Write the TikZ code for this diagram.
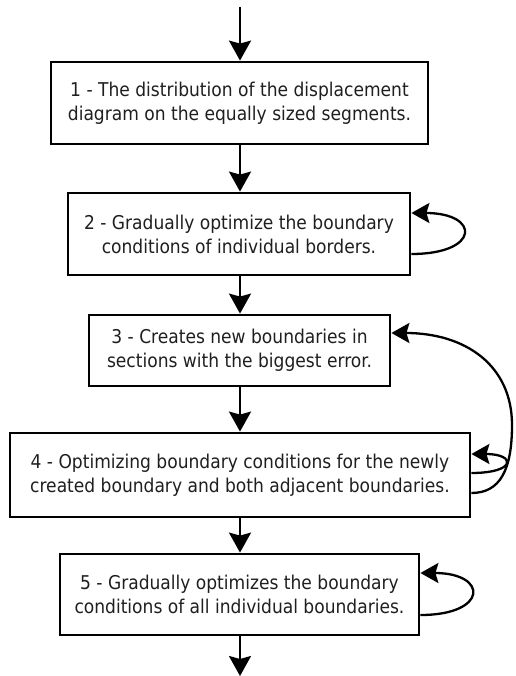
\documentclass[tikz,border=0pt]{standalone}
\usepackage{fontspec}
\setmainfont{DejaVu Sans Condensed}
\usetikzlibrary{arrows.meta}
\begin{document}
\begin{tikzpicture}[x=1pt,y=-1pt,
  stepbox/.style={draw, line width=2.8pt, rectangle, inner sep=0pt, align=center,
    font=\fontsize{19}{24}\selectfont, text=black!88},
  flow/.style={line width=2.3pt, -{Stealth[length=20pt,width=22pt,inset=3pt]}},
  loop/.style={line width=2.3pt, -{Stealth[length=18pt,width=20pt,inset=3pt]}}]
\useasboundingbox (0,0) rectangle (515,676);
\node[stepbox, minimum width=377pt, minimum height=82pt] (b1) at (239.5,103)
  {1 - The distribution of the displacement\\diagram on the equally sized segments.};
\node[stepbox, minimum width=342pt, minimum height=82pt] (b2) at (239,234)
  {2 - Gradually optimize the boundary\\conditions of individual borders.};
\node[stepbox, minimum width=301pt, minimum height=71pt] (b3) at (239.5,350.5)
  {3 - Creates new boundaries in\\sections with the biggest error.};
\node[stepbox, minimum width=460pt, minimum height=84pt] (b4) at (240,475)
  {4 - Optimizing boundary conditions for the newly\\created boundary and both adjacent boundaries.};
\node[stepbox, minimum width=359pt, minimum height=81pt] (b5) at (239.5,594.5)
  {5 - Gradually optimizes the boundary\\conditions of all individual boundaries.};
\coordinate (top) at (240,7);
\coordinate (bot) at (240,676);
% main flow
\draw[flow] (top) -- (top |- b1.north);
\draw[flow] (top |- b1.south) -- (top |- b2.north);
\draw[flow] (top |- b2.south) -- (top |- b3.north);
\draw[flow] (top |- b3.south) -- (top |- b4.north);
\draw[flow] (top |- b4.south) -- (top |- b5.north);
\draw[flow] (top |- b5.south) -- (bot);
% loops
\draw[loop] ([yshift=-20pt]b2.east) .. controls +(69,0) and +(69,0) .. ([yshift=21pt]b2.east);
\draw[loop] ([yshift=2pt]b4.east) .. controls +(45,0) and +(45,0) .. ([yshift=21pt]b4.east);
\draw[loop] ([yshift=-20.5pt]b5.east) .. controls +(68,0) and +(68,0) .. ([yshift=21.5pt]b5.east);
\draw[loop] ([yshift=-18pt]b4.east) .. controls (500,493) and (512,470) .. (512,425)
  .. controls (512,365) and (465,333) .. ([yshift=17.5pt]b3.east);
\end{tikzpicture}
\end{document}
